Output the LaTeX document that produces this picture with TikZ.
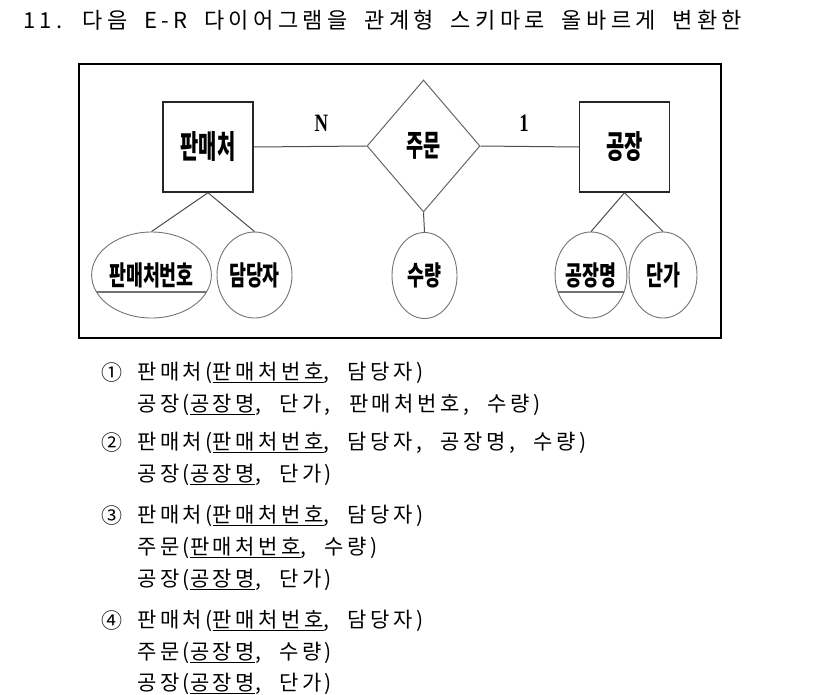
\documentclass[tikz,border=0pt]{standalone}
\usepackage{fontspec}
\usepackage{graphicx}
\setmainfont{Noto Sans CJK KR}
\newfontfamily\cardfont{Liberation Serif}
\newfontfamily\titlefont[LetterSpace=20,WordSpace=1.8]{Noto Sans CJK KR}
\newfontfamily\listfont[LetterSpace=17,WordSpace=2.2]{Noto Sans CJK KR}
\usetikzlibrary{shapes.geometric}

\def\erx{0.62}
\newcommand\erword[1]{\scalebox{\erx}[1]{#1}}
\def\listsize{\listfont\fontsize{21}{21}\selectfont}

\tikzset{
  entbox/.style={draw=black!85, line width=1.4pt, minimum width=90pt, minimum height=90pt,
    inner sep=0pt, font=\fontsize{32}{32}\selectfont\bfseries},
  relbox/.style={diamond, draw=black!60, line width=1pt, minimum width=113pt, minimum height=132pt,
    aspect=0.86, inner sep=0pt, font=\fontsize{30}{30}\selectfont\bfseries},
  attrbox/.style={ellipse, draw=black!55, line width=0.9pt, minimum height=86pt, inner sep=0pt,
    font=\fontsize{27}{27}\selectfont\bfseries},
  keyattr/.style={attrbox, path picture={
    \draw[line width=2.2pt] ([yshift=-17pt]path picture bounding box.west)
      -- ([yshift=-17pt]path picture bounding box.east);}},
  link/.style={draw=black!70, line width=1pt},
  card/.style={font=\cardfont\bfseries\fontsize{25}{25}\selectfont, inner sep=0pt},
  qline/.style={anchor=west, inner sep=0pt, font=\listsize},
}

\begin{document}
\begin{tikzpicture}[x=1pt, y=-1pt]
      \useasboundingbox (0,0) rectangle (826,694);

      % question
      \node[anchor=west, inner sep=0pt, font=\titlefont\fontsize{22}{22}\selectfont] (title) at (23,20)
        {11. 다음 E-R 다이어그램을 관계형 스키마로 올바르게 변환한};

      % E-R diagram
      \draw[line width=2pt] (79,64) rectangle (721,338);
      \node[entbox] (seller) at (208,147) {\erword{판매처}};
      \node[relbox] (order) at (423.5,146) {\erword{주문}};
      \node[entbox] (factory) at (624.5,147) {\erword{공장}};
      \node[keyattr, minimum width=107pt] (sellerno) at (151.5,275) {\erword{\scalebox{1.1}[1]{판매처번호}}};
      \node[attrbox, minimum width=75pt] (manager) at (254.5,275) {\erword{\scalebox{1.1}[1]{담당자}}};
      \node[attrbox, minimum width=65pt] (qty) at (424.5,275.5) {\erword{\scalebox{1.1}[1]{수량}}};
      \node[keyattr, minimum width=68pt] (fname) at (591,275) {\erword{\scalebox{1.1}[1]{공장명}}};
      \node[attrbox, minimum width=68pt] (price) at (663,275) {\erword{\scalebox{1.1}[1]{단가}}};
      \node[card] (cardn) at (321.5,123.5) {\scalebox{0.75}[1]{N}};
      \node[card] (cardone) at (524,123.5) {\scalebox{0.75}[1]{1}};
      \draw[link] (seller.east) -- (order.west);
      \draw[link] (order.east) -- (factory.west);
      \draw[link] (seller.south) -- (sellerno.north);
      \draw[link] (seller.south) -- (manager.north);
      \draw[link] (order.south) -- (qty.north);
      \draw[link] (factory.south) -- (fname.north);
      \draw[link] (factory.south) -- (price.north);

      % answers
      \node[qline] (num1) at (101,373) {①};
      \node[qline] (a1) at (137,373) {판매처(\underline{판매처번호}, 담당자)};
      \node[qline] (b1) at (137,405) {공장(\underline{공장명}, 단가, 판매처번호, 수량)};
      \node[qline] (num2) at (101,443) {②};
      \node[qline] (a2) at (137,443) {판매처(\underline{판매처번호}, 담당자, 공장명, 수량)};
      \node[qline] (b2) at (137,475) {공장(\underline{공장명}, 단가)};
      \node[qline] (num3) at (101,516) {③};
      \node[qline] (a3) at (137,516) {판매처(\underline{판매처번호}, 담당자)};
      \node[qline] (b3) at (137,548) {주문(\underline{판매처번호}, 수량)};
      \node[qline] (c3) at (137,580) {공장(\underline{공장명}, 단가)};
      \node[qline] (num4) at (101,621) {④};
      \node[qline] (a4) at (137,621) {판매처(\underline{판매처번호}, 담당자)};
      \node[qline] (b4) at (137,653) {주문(\underline{공장명}, 수량)};
      \node[qline] (c4) at (137,684) {공장(\underline{공장명}, 단가)};
    \end{tikzpicture}
\end{document}
